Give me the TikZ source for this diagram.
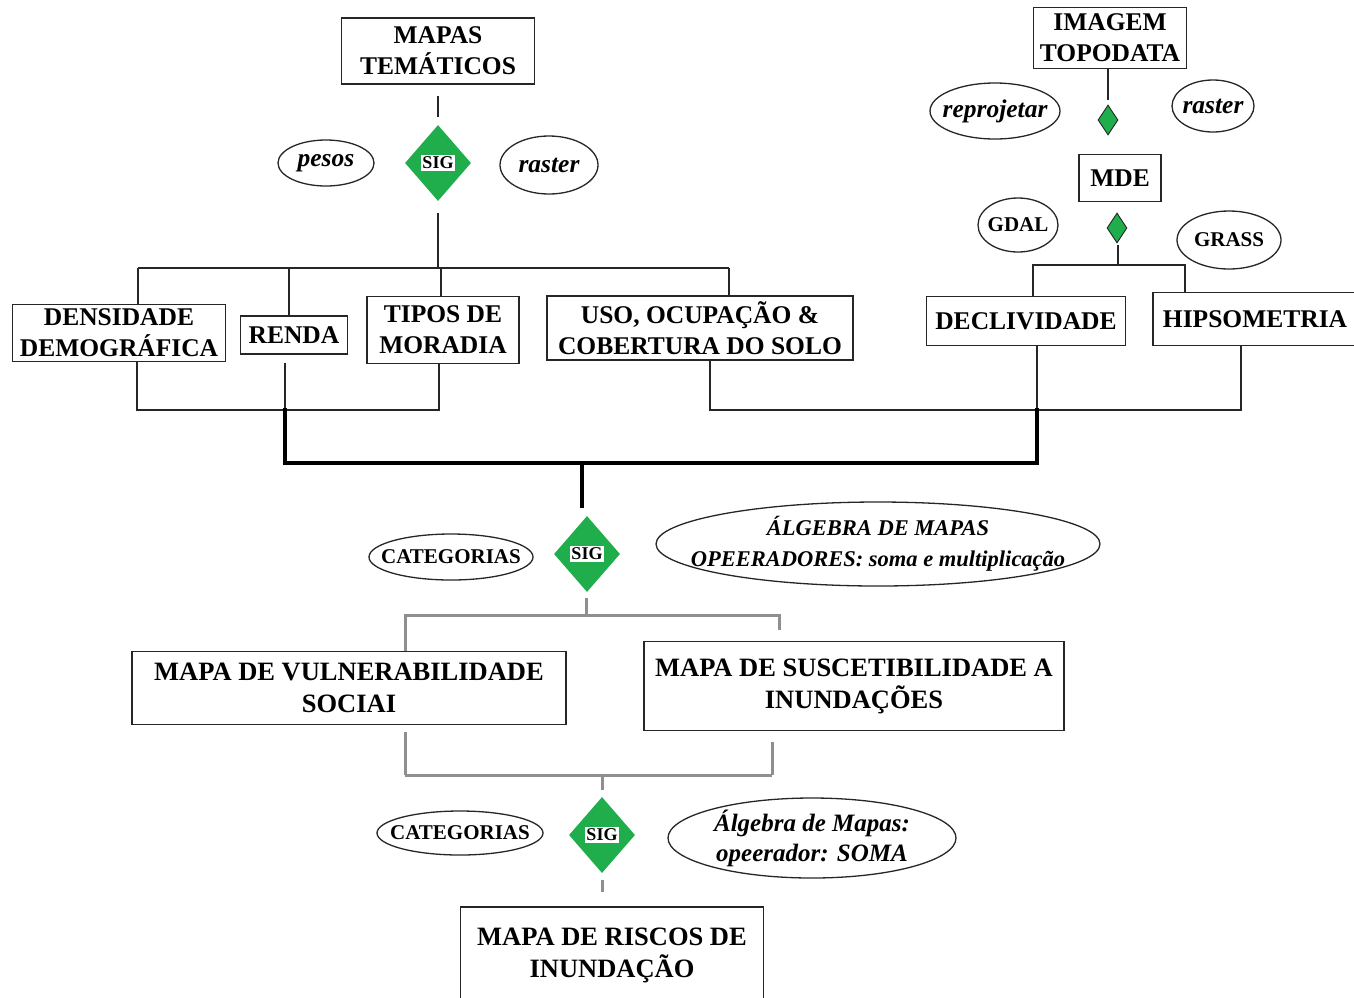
\documentclass[tikz,border=0pt]{standalone}
\usepackage{fontspec}
\setmainfont{Liberation Serif}
\usetikzlibrary{shapes.geometric}
\definecolor{sigreen}{HTML}{1FAE4B}
\definecolor{wiregray}{HTML}{8F8F8F}
\definecolor{inkgray}{HTML}{262626}

\begin{document}
\begin{tikzpicture}[x=1pt,y=-1pt,
  box/.style={draw=inkgray,line width=1.5pt,fill=white,align=center,inner sep=0pt,
    font=\fontsize{25.5}{31}\selectfont\bfseries},
  bigbox/.style={box,font=\fontsize{26.5}{32}\selectfont\bfseries},
  tag/.style={ellipse,draw=inkgray,line width=1.3pt,inner sep=0pt},
  itlbl/.style={align=center,inner sep=0pt,font=\fontsize{25.5}{29}\selectfont\bfseries\itshape},
  uplbl/.style={inner sep=0pt,font=\fontsize{21}{24}\selectfont\bfseries},
  sig/.style={diamond,fill=sigreen,minimum width=66pt,minimum height=76pt,inner sep=0pt},
  siglbl/.style={fill=white,inner sep=1.5pt,font=\fontsize{18}{18}\selectfont\bfseries},
  smalldia/.style={diamond,draw=inkgray,line width=0.9pt,fill=sigreen,
    minimum width=20pt,minimum height=30pt,inner sep=0pt},
  wire/.style={line width=1.5pt,inkgray},
  thickwire/.style={line width=4.5pt,black,line cap=rect},
  graywire/.style={line width=3pt,wiregray}]
\useasboundingbox (0,0) rectangle (1354,997);
% entradas tematicas
\node[box,minimum width=193pt,minimum height=66pt] (mt) at (438,51) {MAPAS\\TEMÁTICOS};
\node[sig] (sig1) at (438,163) {};
\node[siglbl] (sig1l) at (sig1) {SIG};
\node[tag,minimum width=96pt,minimum height=46pt,label={[itlbl]center:pesos}] (pesos) at (326,163) {};
\node[tag,minimum width=98pt,minimum height=58pt,label={[itlbl]center:raster}] (rast1) at (549,165) {};
\node[box,minimum width=213pt,minimum height=57pt] (dens) at (119,333) {DENSIDADE\\DEMOGRÁFICA};
\node[box,minimum width=107pt,minimum height=38pt] (renda) at (294,335) {RENDA};
\node[box,minimum width=152pt,minimum height=67pt] (tipos) at (443,330) {TIPOS DE\\MORADIA};
\node[box,minimum width=306pt,minimum height=64pt] (uso) at (700,328) {USO, OCUPAÇÃO \&\\COBERTURA DO SOLO};
% entradas topograficas
\node[box,minimum width=153pt,minimum height=61pt] (img) at (1110,38) {IMAGEM\\TOPODATA};
\node[smalldia] (dd1) at (1108,120) {};
\node[tag,minimum width=130pt,minimum height=56pt,label={[itlbl]center:reprojetar}] (repr) at (995,111) {};
\node[tag,minimum width=82pt,minimum height=52pt,label={[itlbl]center:raster}] (rast2) at (1213,106) {};
\node[box,minimum width=82pt,minimum height=47pt] (mde) at (1120,178) {MDE};
\node[smalldia] (dd2) at (1117,228) {};
\node[tag,minimum width=80pt,minimum height=54pt,label={[uplbl]center:GDAL}] (gdal) at (1018,225) {};
\node[tag,minimum width=104pt,minimum height=58pt,label={[uplbl]center:GRASS}] (grass) at (1229,240) {};
\node[box,minimum width=199pt,minimum height=49pt] (decl) at (1026,321) {DECLIVIDADE};
\node[box,minimum width=204pt,minimum height=53pt] (hips) at (1255,319) {HIPSOMETRIA};
% primeira algebra
\node[sig] (sig2) at (587,554) {};
\node[siglbl] (sig2l) at (sig2) {SIG};
\node[tag,minimum width=164pt,minimum height=46pt,label={[uplbl]center:CATEGORIAS}] (cat1) at (451,557) {};
\node[tag,minimum width=444pt,minimum height=84pt,
  label={[itlbl,font=\fontsize{22.5}{31}\selectfont\bfseries\itshape]center:{ÁLGEBRA DE MAPAS\\OPEERADORES: soma e multiplicação}}]
  (alg1) at (878,544) {};
\node[bigbox,minimum width=434pt,minimum height=73pt] (vuln) at (349,688) {MAPA DE VULNERABILIDADE\\SOCIAI};
\node[bigbox,minimum width=420pt,minimum height=89pt] (susc) at (854,686) {MAPA DE SUSCETIBILIDADE A\\INUNDAÇÕES};
% segunda algebra
\node[sig] (sig3) at (602,835) {};
\node[siglbl] (sig3l) at (sig3) {SIG};
\node[tag,minimum width=166pt,minimum height=44pt,label={[uplbl]center:CATEGORIAS}] (cat2) at (460,833) {};
\node[tag,minimum width=288pt,minimum height=80pt,
  label={[itlbl,font=\fontsize{25}{30}\selectfont\bfseries\itshape]center:{Álgebra de Mapas:\\opeerador: SOMA}}]
  (alg2) at (812,838) {};
\node[bigbox,minimum width=303pt,minimum height=96pt] (risco) at (612,955) {MAPA DE RISCOS DE\\INUNDAÇÃO};
% juncoes
\coordinate (ta) at (138,268); \coordinate (tb) at (289,268);
\coordinate (tc) at (441,268); \coordinate (td) at (729,268);
\coordinate (ba) at (137,410); \coordinate (bb) at (285,410);
\coordinate (bc) at (439,410); \coordinate (bd) at (710,410);
\coordinate (be) at (1037,410); \coordinate (bf) at (1241,410);
\coordinate (ka) at (285,463); \coordinate (kb) at (582,463); \coordinate (kc) at (1037,463);
\coordinate (ra) at (1033,265); \coordinate (rb) at (1118,265); \coordinate (rc) at (1185,265);
\coordinate (ga) at (405,615); \coordinate (gb) at (586,615); \coordinate (gc) at (779,615);
\coordinate (ha) at (405,775); \coordinate (hb) at (602,775); \coordinate (hc) at (772,775);
% conexoes
\draw[wire,shorten <=11pt,shorten >=8pt] (mt) -- (sig1);
\draw[wire,shorten <=12pt] (sig1.south) -- (sig1.south |- tc) -| (tc);
\draw[wire] (ta) -- (td);
\draw[wire] (ta) -- (ta |- dens.north); \draw[wire] (tb) -- (tb |- renda.north);
\draw[wire] (tc) -- (tc |- tipos.north); \draw[wire] (td) -- (td |- uso.north);
\draw[wire] (ba |- dens.south) -- (ba) -- (bc) -- (bc |- tipos.south);
\draw[wire,shorten <=8pt] (bb |- renda.south) -- (bb);
\draw[wire] (bd |- uso.south) -- (bd) -- (bf) -- (bf |- hips.south);
\draw[wire] (be |- decl.south) -- (be);
\draw[wire,shorten >=5pt] (img.south -| dd1) -- (dd1);
\draw[wire,shorten <=2pt] (dd2.south -| rb) -- (rb);
\draw[wire] (ra |- decl.north) -- (ra) -- (rc) -- (rc |- hips.north);
\draw[thickwire] (bb) -- (ka) -- (kc) -- (be);
\draw[thickwire,line cap=butt,shorten >=8pt] (kb) -- (kb |- sig2.north);
\draw[graywire,shorten <=6pt] (sig2.south -| gb) -- (gb);
\draw[graywire,shorten >=11pt] (ga |- vuln.north) -- (ga) -- (gc) -- (gc |- susc.north);
\draw[graywire,shorten <=7pt] (ha |- vuln.south) -- (ha);
\draw[graywire] (ha) -- (hc);
\draw[graywire,shorten <=11pt] (hc |- susc.south) -- (hc);
\draw[graywire,shorten >=7pt] (hb) -- (hb |- sig3.north);
\draw[graywire,shorten <=7pt,shorten >=14pt] (sig3.south) -- (sig3.south |- risco.north);
\end{tikzpicture}
\end{document}
